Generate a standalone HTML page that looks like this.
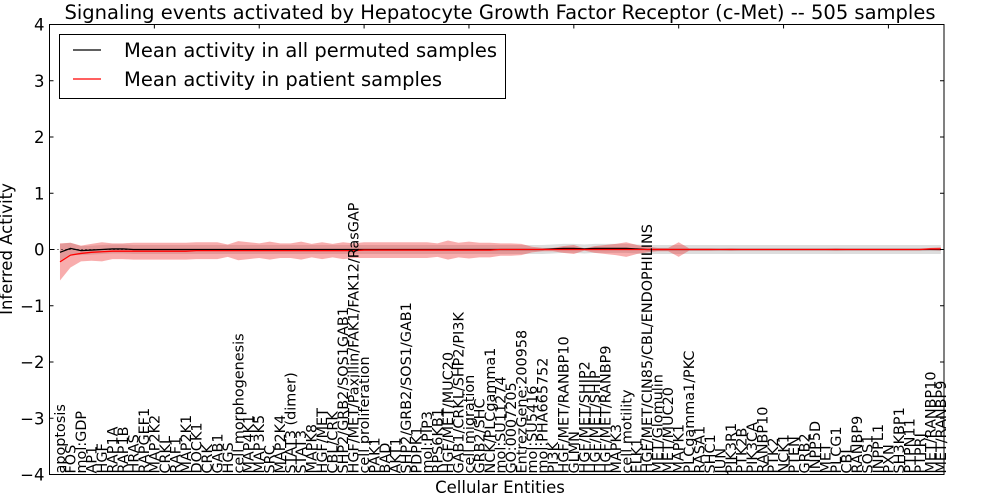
<!DOCTYPE html>
<html><head><meta charset="utf-8"><style>
html,body{margin:0;padding:0;background:#fff;}
svg{display:block;font-family:"DejaVu Sans","Liberation Sans",sans-serif;}
</style></head><body>
<svg id="chart" width="1000" height="500" viewBox="0 0 1000 500">
<rect width="1000" height="500" fill="#fff"/>
<g id="plot"></g>
<text x="500" y="19" font-size="19.5" text-anchor="middle">Signaling events activated by Hepatocyte Growth Factor Receptor (c-Met) -- 505 samples</text>
<text transform="translate(12,249) rotate(-90)" font-size="16.5" text-anchor="middle">Inferred Activity</text>
<text x="500" y="493" font-size="16.5" text-anchor="middle">Cellular Entities</text>
<g>
<rect x="59.5" y="34.5" width="446" height="64" fill="#fff" stroke="#000" stroke-width="1"/>
<line x1="73" y1="50" x2="101" y2="50" stroke="#000" stroke-width="1.2"/>
<text x="124" y="57" font-size="19.5">Mean activity in all permuted samples</text>
<line x1="73" y1="79" x2="101" y2="79" stroke="#f00" stroke-width="1.2"/>
<text x="124" y="86" font-size="19.5">Mean activity in patient samples</text>
</g>
</svg>
<script>
const labels = ["apoptosis","FOS","mol:GDP","AP1","HGF","RAP1A","RAP1B","HRAS","RAPGEF1","MAP2K2","CRKL","RAF1","MAP2K1","DOCK1","CRK","GAB1","HGS","cell morphogenesis","MAP4K1","MAP3K5","SRC","MAP2K4","STAT3 (dimer)","STAT3","MAPK8","HGF/MET","CBL/CRK","SHP2/GRB2/SOS1GAB1","HGF/MET/Paxillin/FAK1/FAK12/RasGAP","cell proliferation","PAK1","BAD","AKT1","SHP2/GRB2/SOS1/GAB1","PDPK1","mol:PIP3","RPS6KB1","HGF/MET/MUC20","GAB1/CRKL/SHP2/PI3K","cell migration","GRB2/SHC","NCK/PLCgamma1","mol:SU11274","GO:0007205","EntrezGene:200958","mol:SU5416","mol:PHA665752","PI3K","HGF/MET/RANBP10","GLMN","HGF/MET/SHIP2","HGF/MET/SHIP","HGF/MET/RANBP9","MAPK3","cell motility","ELK1","HGF/MET/CIN85/CBL/ENDOPHILINS","MET/Glomulin","MET/MUC20","MAPK1","PLCgamma1/PKC","RASA1","SHC1","JUN","PIK3R1","PTK2B","PIK3CA","RANBP10","PTK2","NCK1","PTEN","GRB2","INPP5D","MET","PLCG1","CBL","RANBP9","SOS1","INPPL1","PXN","SH3KBP1","PTPN11","PTPRJ","MET/RANBP10","MET/RANBP9"];
const patientMean = [-0.22,-0.1,-0.07,-0.05,-0.04,-0.03,-0.03,-0.03,-0.03,-0.03,-0.03,-0.03,-0.03,-0.02,-0.02,-0.02,-0.02,-0.02,-0.02,-0.02,-0.02,-0.02,-0.02,-0.02,-0.02,-0.02,-0.02,-0.02,-0.02,-0.01,-0.01,-0.01,-0.01,-0.01,-0.01,-0.01,-0.01,-0.01,-0.01,-0.01,-0.01,-0.01,0,0,0,0,0,0,0,0,0,0,0,0,0,0,0,0,0,0,0,0,0,0,0,0,0,0,0,0,0,0,0,0,0,0,0,0,0,0,0,0,0,0.01,0.01];
const patientSpread = [0.33,0.22,0.14,0.15,0.17,0.14,0.14,0.15,0.15,0.15,0.15,0.15,0.15,0.15,0.15,0.15,0.11,0.17,0.15,0.13,0.16,0.13,0.13,0.16,0.12,0.15,0.12,0.15,0.13,0.14,0.14,0.14,0.14,0.14,0.14,0.14,0.12,0.17,0.13,0.15,0.13,0.13,0.11,0.11,0.1,0.05,0.03,0.03,0.06,0.08,0.02,0.06,0.08,0.1,0.13,0.08,0.05,0.03,0.03,0.13,0.02,0.02,0.02,0.015,0.02,0.015,0.015,0.015,0.015,0.015,0.015,0.015,0.015,0.015,0.02,0.015,0.015,0.015,0.015,0.015,0.015,0.015,0.015,0.02,0.03];
const permutedMean = [-0.05,0.02,-0.02,-0.01,0,0.01,0.01,0,0,0,0,0,0,0,0,0,0,0,0,0,0,0,0,0,0,0,0,0,0,0,0,0,0,0,0,0,0,0,0,0,0,0,0,0,0,0,0,0.01,0.02,0.02,0.01,0.02,0.02,0.02,0.02,0.01,0,0,0,0,0,0,0,0,0,0,0,0,0,0,0,0,0,0,0,0,0,0,0,0,0,0,0,0,0];
const permutedSpread = [0.15,0.1,0.08,0.08,0.08,0.08,0.08,0.08,0.08,0.08,0.08,0.08,0.08,0.08,0.08,0.08,0.08,0.08,0.08,0.08,0.08,0.08,0.08,0.08,0.08,0.08,0.08,0.08,0.08,0.08,0.08,0.08,0.08,0.08,0.08,0.08,0.08,0.08,0.08,0.08,0.08,0.08,0.08,0.08,0.08,0.08,0.08,0.08,0.08,0.08,0.08,0.08,0.08,0.08,0.08,0.08,0.08,0.08,0.08,0.08,0.08,0.08,0.08,0.08,0.08,0.08,0.08,0.08,0.08,0.08,0.08,0.08,0.08,0.08,0.08,0.08,0.08,0.08,0.08,0.08,0.08,0.08,0.08,0.08,0.08];
const yTicks = [-4,-3,-2,-1,0,1,2,3,4];
const yTickLabels = ["\u22124","\u22123","\u22122","\u22121","0","1","2","3","4"];
const xMajorTicks = [0,10,20,30,40,50,60,70,80];

const L=49.5,R=944,T=24.5,B=474.5;
const XMIN=0,XMAX=85.3,YMIN=-4,YMAX=4;
const sx=v=>L+(v-XMIN)/(XMAX-XMIN)*(R-L);
const sy=v=>B-(v-YMIN)/(YMAX-YMIN)*(B-T);
const NS="http://www.w3.org/2000/svg";
const plot=document.getElementById('plot');
function mk(tag,attrs,parent){const e=document.createElementNS(NS,tag);for(const k in attrs)e.setAttribute(k,attrs[k]);(parent||plot).appendChild(e);return e;}
const px=i=>sx(i+1);

function band(mean,spread,fill,op,name){
  let up=mean.map((m,i)=>px(i)+','+sy(m+spread[i]));
  let lo=mean.map((m,i)=>px(i)+','+sy(m-spread[i])).reverse();
  const p=mk('polygon',{points:up.concat(lo).join(' '),fill:fill,'fill-opacity':op});
  
  
}
band(permutedMean,permutedSpread,'#bbbbbb',0.5,'permuted-band');
band(patientMean,patientSpread,'#ee3333',0.4,'patient-band');
const z=mk('line',{x1:L,y1:sy(0),x2:R,y2:sy(0),stroke:'#000','stroke-width':1,'stroke-dasharray':'1,3'});


function line(mean,color,name){
  const p=mk('polyline',{points:mean.map((m,i)=>px(i)+','+sy(m)).join(' '),fill:'none',stroke:color,'stroke-width':1.3});
  
  
}
line(permutedMean,'#000','permuted-mean-line');
line(patientMean,'#f00','patient-mean-line');
const fr=mk('rect',{x:L,y:T,width:R-L,height:B-T,fill:'none',stroke:'#000','stroke-width':1});


yTicks.forEach((v,i)=>{
  const y=sy(v);
  const t1=mk('line',{x1:L,y1:y,x2:L+4,y2:y,stroke:'#000'});
  
  
  const t2=mk('line',{x1:R,y1:y,x2:R-4,y2:y,stroke:'#000'});
  
  
  const tx=mk('text',{x:L-5,y:y+6,'font-size':16.5,'text-anchor':'end'});
  tx.textContent=yTickLabels[i];
  
  
});
xMajorTicks.forEach(v=>{
  const x=sx(v);
  const t=mk('line',{x1:x,y1:T,x2:x,y2:T+4,stroke:'#000'});
  
  
});
labels.forEach((lab,i)=>{
  const x=px(i)+5, y=B-1;
  const t=mk('text',{transform:`translate(${x},${y}) rotate(-90)`,'font-size':14.4});
  t.textContent=lab;
  
  
});
</script>
</body></html>
